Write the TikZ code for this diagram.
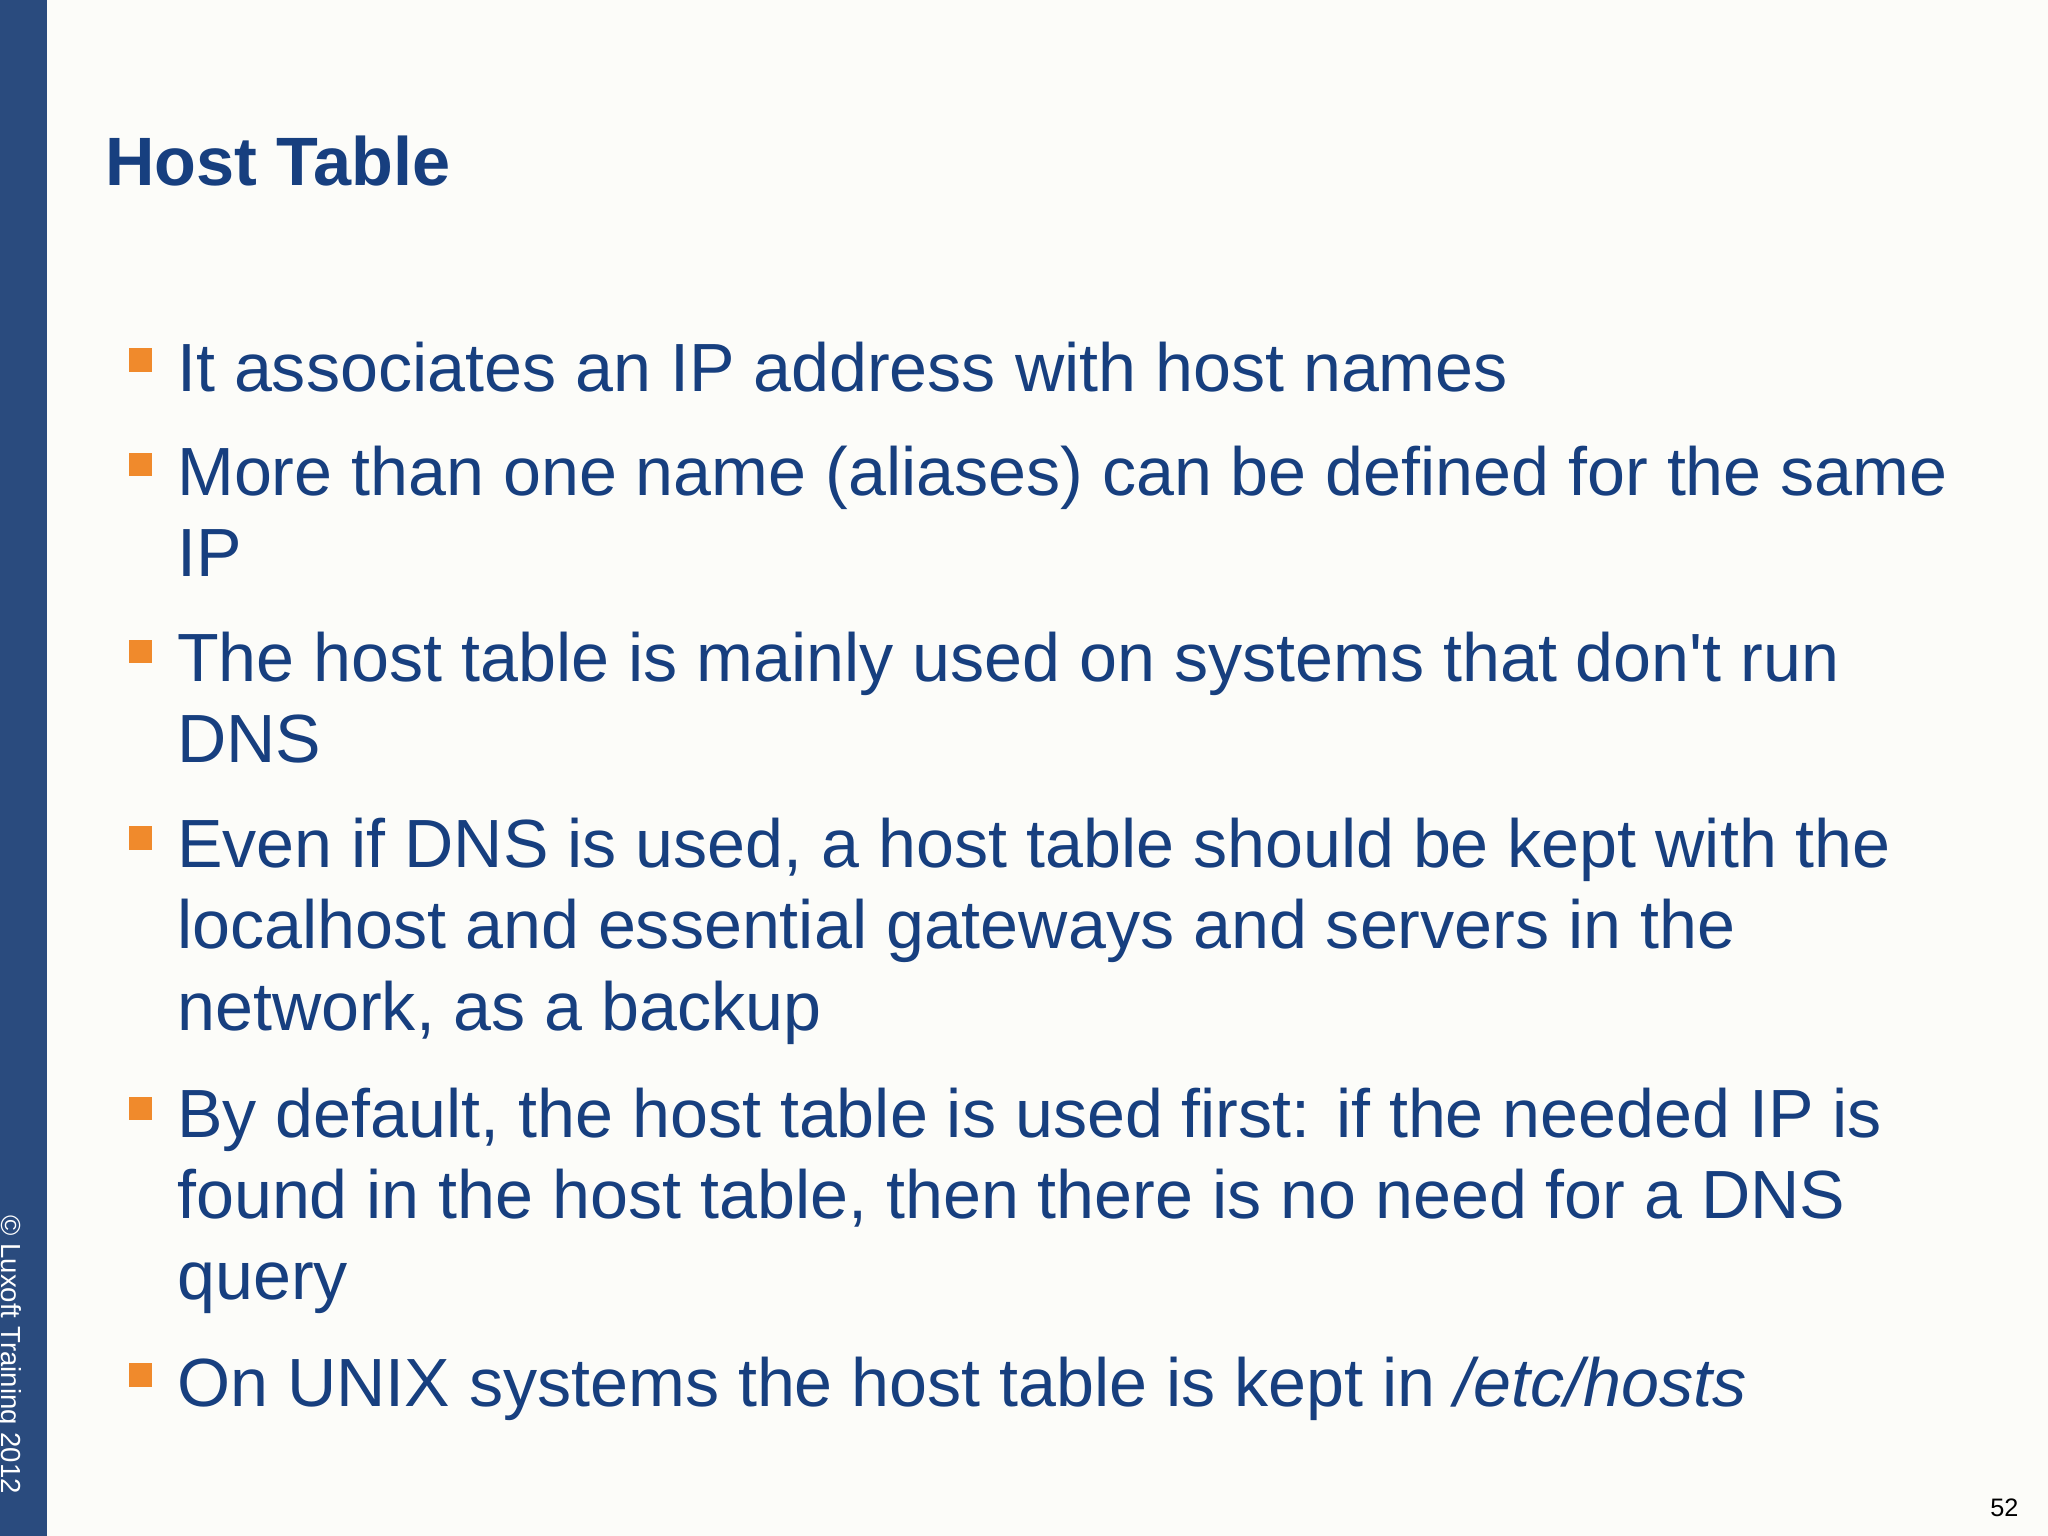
\documentclass[tikz,border=0pt]{standalone}
\usepackage{fontspec}
\setmainfont{Liberation Sans}
\definecolor{side}{HTML}{2A4B7E}
\definecolor{txt}{HTML}{173F7F}
\definecolor{bul}{HTML}{F08A2C}
\definecolor{bg}{HTML}{FCFCF9}
\begin{document}
\begin{tikzpicture}[x=0.01cm,y=-0.01cm,
  body/.style={anchor=north west,inner sep=0pt,text=txt,align=left,font=\fontsize{14.85}{17.64}\selectfont},
  sq/.style={fill=bul,minimum size=0.18cm,inner sep=0pt,anchor=north west}]
\fill[bg] (0,0) rectangle (1568,1176);
\useasboundingbox (0,0) rectangle (1568,1176);
\fill[side] (0,0) rectangle (36,1176);
\node[anchor=north west,inner sep=0pt,text=txt,font=\fontsize{14.9}{16}\selectfont\bfseries] (title) at (80,103) {Host Table};
\node[body] (b1) at (135,261) {It associates an IP address with host names};
\node[body] (b2) at (135,341) {More than one name (aliases) can be defined for the same\\IP};
\node[body] (b3) at (135,483) {The host table is mainly used on systems that don\textquotesingle t run\\DNS};
\node[body] (b4) at (135,626) {Even if DNS is used, a host table should be kept with the\\localhost and essential gateways and servers in the\\network, as a backup};
\node[body] (b5) at (135,832) {By default, the host table is used first: if the needed IP is\\found in the host table, then there is no need for a DNS\\query};
\node[body] (b6) at (135,1038) {On UNIX systems the host table is kept in \textit{/etc/hosts}};
\foreach \y/\n in {266/s1,346/s2,489/s3,632/s4,839/s5,1043/s6}
  \node[sq] (\n) at (98,\y) {};
\node[rotate=-90,anchor=north west,inner sep=0pt,text=white,font=\fontsize{6}{7}\selectfont] (copy) at (17,930) {© Luxoft Training 2012};
\node[anchor=north east,inner sep=0pt,text=black,font=\fontsize{5.5}{7}\selectfont] (pg) at (1546,1147) {52};
\end{tikzpicture}
\end{document}
